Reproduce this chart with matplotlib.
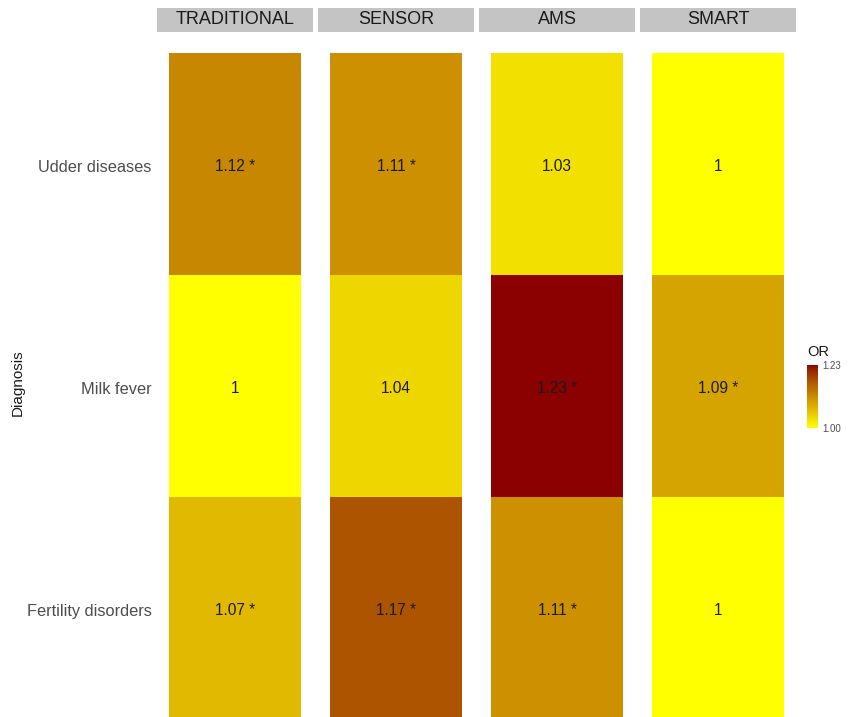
import numpy as np
import matplotlib
matplotlib.use("Agg")
import matplotlib.pyplot as plt
from matplotlib.colors import ListedColormap, Normalize
from matplotlib.colorbar import ColorbarBase

plt.rcParams['font.family'] = ['Liberation Sans', 'DejaVu Sans']

# odds ratios per milking system (columns) and diagnosis (rows)
systems = ["TRADITIONAL", "SENSOR", "AMS", "SMART"]
diagnoses = ["Udder diseases", "Milk fever", "Fertility disorders"]
odds_ratio = {
    "TRADITIONAL": [1.12, 1.00, 1.07],
    "SENSOR": [1.11, 1.04, 1.17],
    "AMS": [1.03, 1.23, 1.11],
    "SMART": [1.00, 1.09, 1.00],
}
significant = {
    "TRADITIONAL": [True, False, True],
    "SENSOR": [True, False, True],
    "AMS": [False, True, True],
    "SMART": [False, True, False],
}
or_limits = [1.00, 1.23]


def srgb_to_lab(rgb):
    rgb = np.asarray(rgb, float)
    lin = np.where(rgb <= 0.04045, rgb / 12.92, ((rgb + 0.055) / 1.055) ** 2.4)
    m = np.array([[0.4124, 0.3576, 0.1805],
                  [0.2126, 0.7152, 0.0722],
                  [0.0193, 0.1192, 0.9505]])
    xyz = m @ lin / np.array([0.95047, 1.0, 1.08883])
    f = np.where(xyz > 0.008856, np.cbrt(xyz), 7.787 * xyz + 16 / 116)
    return np.array([116 * f[1] - 16, 500 * (f[0] - f[1]), 200 * (f[1] - f[2])])


def lab_to_srgb(lab):
    L, a, b = lab
    fy = (L + 16) / 116
    fx = fy + a / 500
    fz = fy - b / 200
    f = np.array([fx, fy, fz])
    xyz = np.where(f ** 3 > 0.008856, f ** 3, (f - 16 / 116) / 7.787)
    xyz = xyz * np.array([0.95047, 1.0, 1.08883])
    m = np.array([[3.2406, -1.5372, -0.4986],
                  [-0.9689, 1.8758, 0.0415],
                  [0.0557, -0.2040, 1.0570]])
    lin = m @ xyz
    rgb = np.where(lin <= 0.0031308, 12.92 * lin, 1.055 * np.clip(lin, 0, None) ** (1 / 2.4) - 0.055)
    return np.clip(rgb, 0, 1)


# yellow -> darkred gradient, interpolated in Lab like ggplot's scale_fill_gradient
low = srgb_to_lab([1.0, 1.0, 0.0])
high = srgb_to_lab([139 / 255, 0.0, 0.0])
cmap = ListedColormap([lab_to_srgb(low + t * (high - low)) for t in np.linspace(0, 1, 256)])
norm = Normalize(*or_limits)

W, H = 849, 717
fig = plt.figure(figsize=(W / 100, H / 100), dpi=100)


def px_axes(x0, y0, x1, y1):
    return fig.add_axes([x0 / W, 1 - y1 / H, (x1 - x0) / W, (y1 - y0) / H])


panel_left = [157, 318, 479, 640]
panel_w = 156
rows = np.arange(len(diagnoses))[::-1] + 1  # top row first

for i, sys in enumerate(systems):
    x0 = panel_left[i]
    # facet strip
    sax = px_axes(x0, 8, x0 + panel_w, 32)
    sax.set_facecolor("#c4c4c4")
    sax.set_xticks([])
    sax.set_yticks([])
    for s in sax.spines.values():
        s.set_visible(False)
    sax.text(0.5, 0.5, sys, ha="center", va="center", fontsize=13,
             color="#1a1a1a", transform=sax.transAxes)

    ax = px_axes(x0, 33, x0 + panel_w, 717)
    vals = odds_ratio[sys]
    for r, v, sig in zip(rows, vals, significant[sys]):
        ax.bar(1, 1, width=1, bottom=r - 0.5, color=cmap(norm(v)), linewidth=0)
        label = f"{v:g}" + (" *" if sig else "")
        ax.text(1, r - 0.01, label, ha="center", va="center", fontsize=11.2, color="#1a1a1a")
    ax.set_xlim(0.41, 1.59)
    ax.set_ylim(0.51, 3.59)
    ax.set_xticks([])
    for s in ax.spines.values():
        s.set_visible(False)
    if i == 0:
        ax.set_yticks(rows - 0.01)
        ax.set_yticklabels(diagnoses, fontsize=11.8, color="#4d4d4d")
        ax.tick_params(axis="y", length=0, pad=4)
    else:
        ax.set_yticks([])

fig.text(18 / W, 1 - 383 / H, "Diagnosis", rotation=90, fontsize=11,
         color="#1a1a1a", ha="center", va="center")

# colour legend
cax = px_axes(807, 365, 818, 428)
cb = ColorbarBase(cax, cmap=cmap, norm=norm, orientation="vertical")
cb.outline.set_visible(False)
cb.set_ticks(or_limits)
cb.set_ticklabels([f"{v:.2f}" for v in or_limits])
cax.tick_params(length=0, labelsize=7, colors="#4d4d4d", pad=3)
fig.text(807 / W, 1 - 352 / H, "OR", fontsize=10.5, color="#1a1a1a", ha="left", va="center")

fig.savefig("out.png", dpi=100)
